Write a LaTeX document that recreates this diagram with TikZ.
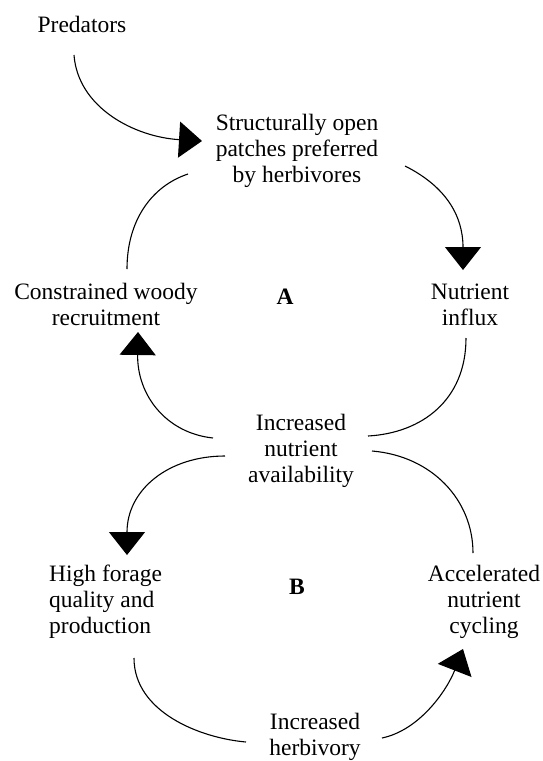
\documentclass[tikz,border=0pt]{standalone}
\usepackage{fontspec}
\setmainfont{Liberation Serif}
\usetikzlibrary{arrows.meta}
\begin{document}
\begin{tikzpicture}[x=1pt,y=-1pt,
  lbl/.style={align=center,inner sep=0pt,font=\fontsize{23.5}{26}\selectfont},
  loopname/.style={inner sep=0pt,font=\fontsize{23.5}{26}\selectfont\bfseries},
  conn/.style={line width=1.1pt},
  arr/.style={conn,-{Triangle[length=23pt,width=36pt]}}]
\useasboundingbox (0,0) rectangle (543,761);
\node[lbl] (pred) at (82,24) {Predators};
\node[lbl] (struct) at (297,151) {Structurally open\\patches preferred\\by herbivores};
\node[lbl] (nutr) at (470,305) {Nutrient\\influx};
\node[loopname] (A) at (285,297) {A};
\node[lbl] (constr) at (106,304) {Constrained woody\\recruitment};
\node[lbl] (incr) at (301,451) {Increased\\nutrient\\availability};
\node[loopname] (B) at (297,587) {B};
\node[lbl,align=left,anchor=west] (high) at (49,602) {High forage\\quality and\\production};
\node[lbl] (accel) at (484,602) {Accelerated\\nutrient\\cycling};
\node[lbl] (herb) at (315,737) {Increased\\herbivory};
% connector end points
\coordinate (p1) at (74,55);
\coordinate (s1) at (202,141);
\coordinate (s2) at (405,166);
\coordinate (n1) at (463,270);
\coordinate (n2) at (466,338);
\coordinate (i1) at (368,436);
\coordinate (i2) at (213,438);
\coordinate (c1) at (138,332);
\coordinate (c2) at (127,269);
\coordinate (s3) at (188,174);
\coordinate (i3) at (372,451);
\coordinate (a1) at (473,553);
\coordinate (i4) at (225,456);
\coordinate (h1) at (127,555);
\coordinate (h2) at (134,658);
\coordinate (r1) at (246,742);
\coordinate (r2) at (382,738);
\coordinate (a2) at (463,649);
% connectors
\draw[arr] (p1) .. controls (78,108) and (135,137) .. (s1);
\draw[arr] (s2) .. controls (445,186) and (463,215) .. (n1);
\draw[conn] (n2) .. controls (466,400) and (422,433) .. (i1);
\draw[arr] (i2) .. controls (166,433) and (137,395) .. (c1);
\draw[conn] (c2) .. controls (127,220) and (152,186) .. (s3);
\draw[conn] (i3) .. controls (432,456) and (473,500) .. (a1);
\draw[arr] (i4) .. controls (168,456) and (127,490) .. (h1);
\draw[conn] (h2) .. controls (134,712) and (200,738) .. (r1);
\draw[arr] (r2) .. controls (420,730) and (447,690) .. (a2);
\end{tikzpicture}
\end{document}
